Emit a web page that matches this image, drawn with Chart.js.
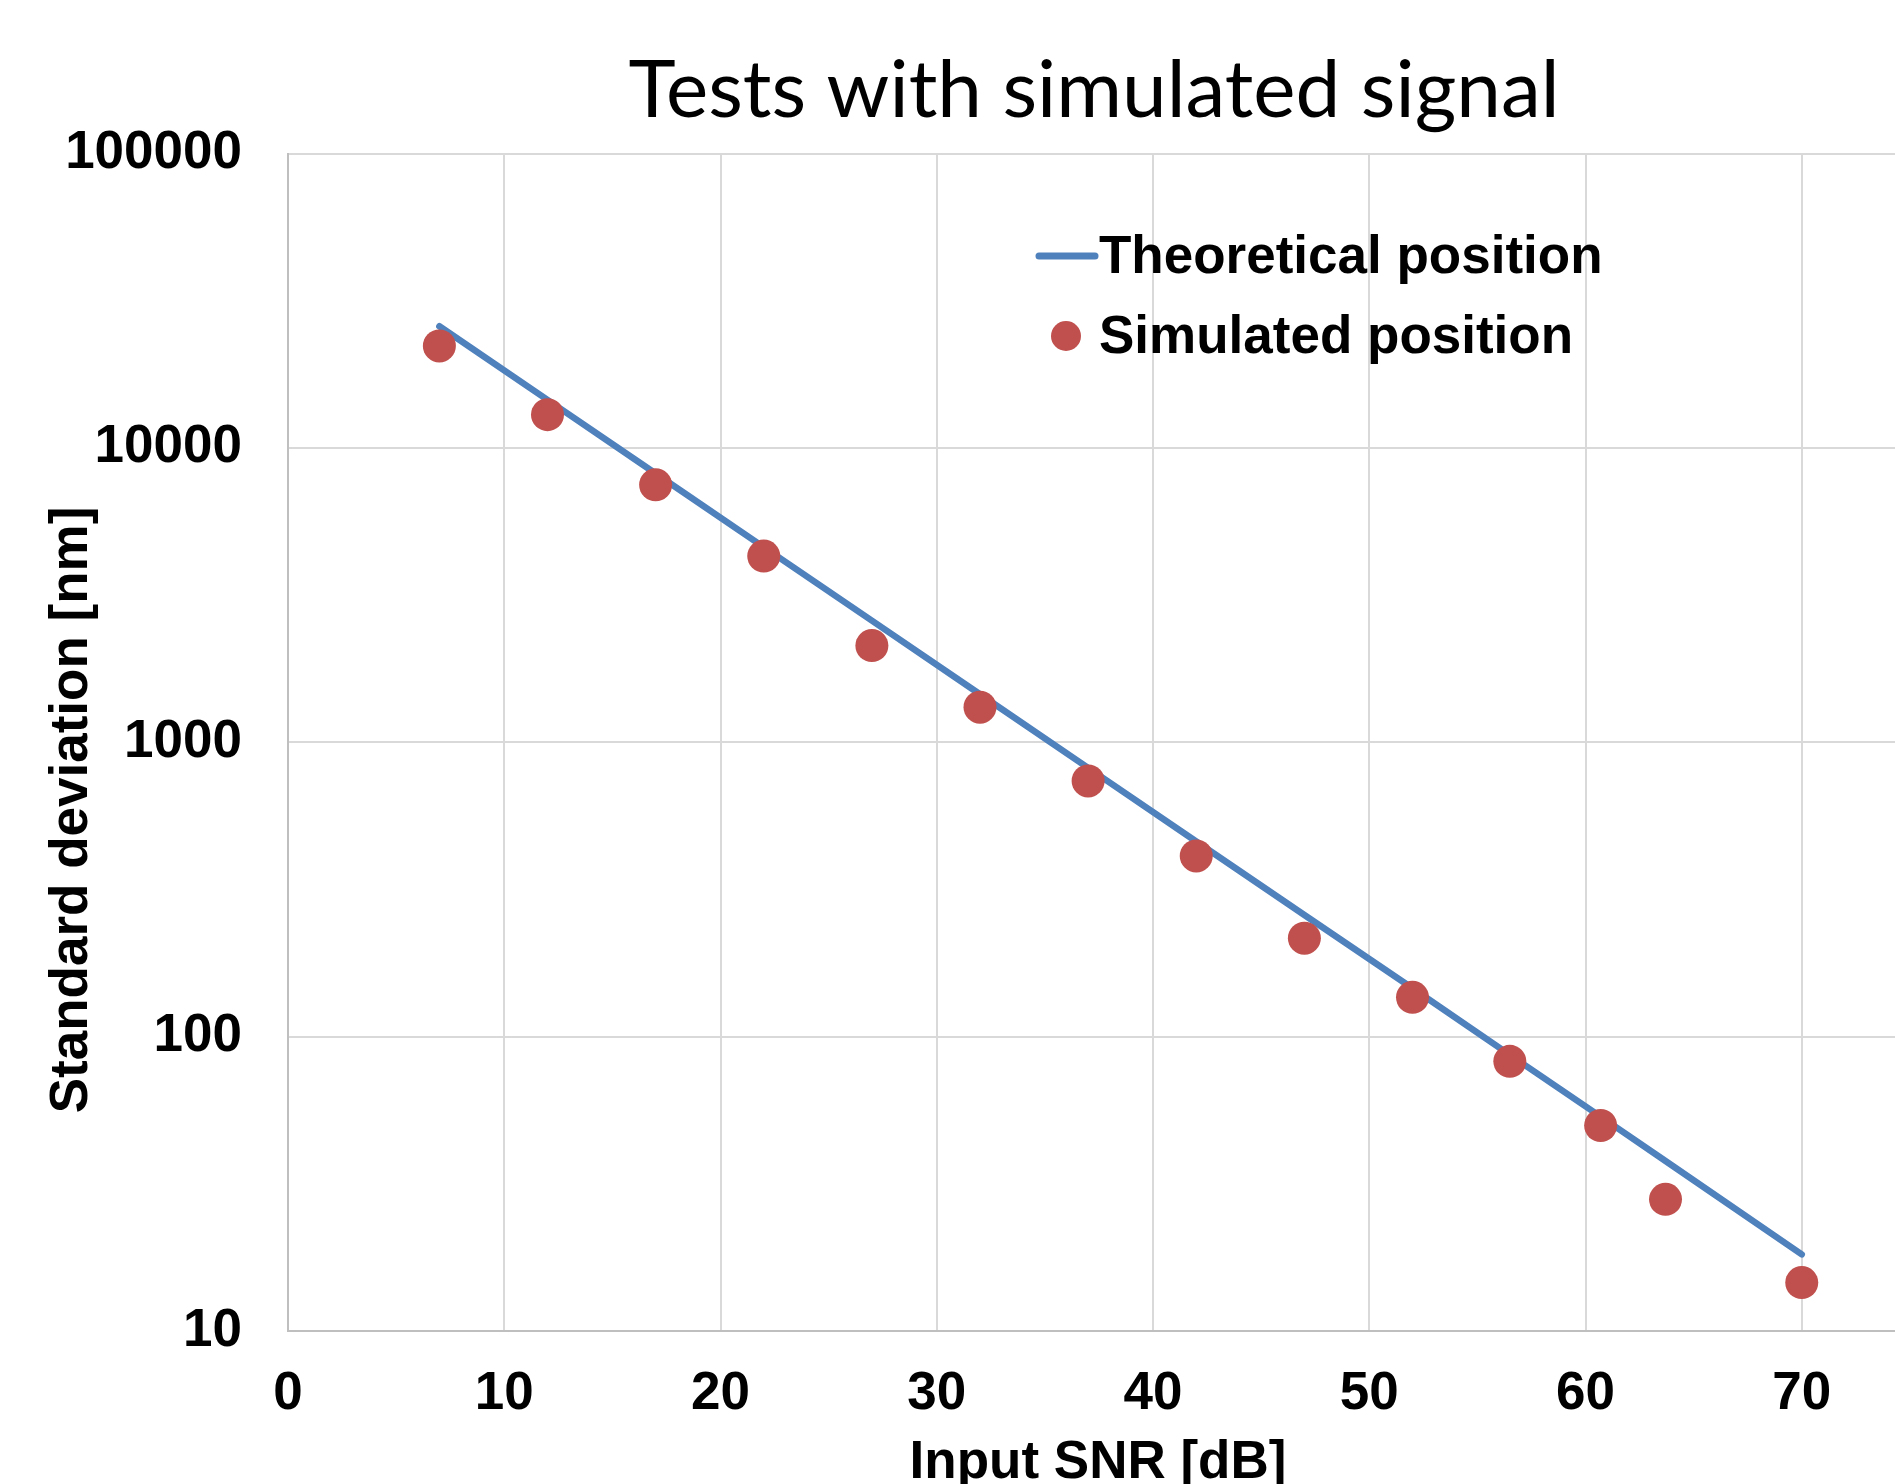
<!DOCTYPE html>
<html lang="en">
<head>
    <meta charset="UTF-8">
    <title>Tests with simulated signal</title>
    <style>
        html, body { margin: 0; padding: 0; background: #fff; overflow: hidden; }
        .frame { width: 1895px; height: 1484px; overflow: hidden; position: relative; }
        .frame canvas { position: absolute; left: 0; top: 0; }
    </style>
</head>
<body>
    <div class="frame">
        <canvas id="snrChart" width="2188" height="1500"></canvas>
    </div>

    <script src="https://cdn.jsdelivr.net/npm/chart.js"></script>
    <script>
        // Input SNR [dB] for both series
        const snrValues = [7, 12, 17, 22, 27, 32, 37, 42, 47, 52, 56.5, 60.7, 63.7, 70];
        // theoretical standard deviation [nm]
        const theoreticalStd = [25900, 14560, 8180, 4600, 2590, 1455, 818, 460, 259, 146, 86.7, 53.5, 37.8, 18.2];
        // simulated standard deviation [nm]
        const simulatedStd = [22200, 12970, 7490, 4290, 2130, 1316, 739, 411, 216, 136, 82.4, 49.9, 28.0, 14.6];

        const xTicks = [0, 10, 20, 30, 40, 50, 60, 70, 80];
        const yTicks = [10, 100, 1000, 10000, 100000];

        const seriesNames = ['Theoretical position', 'Simulated position'];
        const chartTitle = 'Tests with simulated signal';
        const xTitle = 'Input SNR [dB]';
        const yTitle = 'Standard deviation [nm]';

        const BLUE = '#4f81bd';
        const RED = '#c0504d';
        const GRID = '#d9d9d9';
        const AXIS = '#bfbfbf';
        const BOLD = { family: "'Liberation Sans', Arial, sans-serif", size: 53, weight: 'bold' };
        const BOLD_CSS = 'bold 53px "Liberation Sans", Arial, sans-serif';

        const toPoints = (xs, ys) => xs.map((x, i) => ({ x: x, y: ys[i] }));

        // titles + legend drawn by hand so they sit where the original has them
        const extras = {
            id: 'extras',
            afterDraw(chart) {
                const ctx = chart.ctx;
                ctx.save();
                ctx.fillStyle = '#000';

                // chart title
                ctx.font = '80px Lato, sans-serif';
                ctx.textAlign = 'center';
                ctx.textBaseline = 'alphabetic';
                ctx.fillText(chartTitle, 1094, 117);

                ctx.font = BOLD_CSS;
                ctx.textBaseline = 'middle';

                // x axis title (cut by the frame bottom like the original)
                ctx.fillText(xTitle, 1098, 1463);

                // y axis title
                ctx.save();
                ctx.translate(72, 810);
                ctx.rotate(-Math.PI / 2);
                ctx.fillText(yTitle, 0, 0);
                ctx.restore();

                // legend
                ctx.textAlign = 'left';
                const lx = 1039;
                ctx.strokeStyle = BLUE;
                ctx.lineWidth = 7;
                ctx.lineCap = 'round';
                ctx.beginPath();
                ctx.moveTo(lx, 256);
                ctx.lineTo(lx + 56, 256);
                ctx.stroke();
                ctx.fillText(seriesNames[0], lx + 60, 258);

                ctx.fillStyle = RED;
                ctx.beginPath();
                ctx.arc(lx + 27, 336, 15, 0, Math.PI * 2);
                ctx.fill();
                ctx.fillStyle = '#000';
                ctx.fillText(seriesNames[1], lx + 60, 338);
                ctx.restore();
            }
        };

        const ctx = document.getElementById('snrChart').getContext('2d');
        const snrChart = new Chart(ctx, {
            type: 'scatter',
            data: {
                datasets: [{
                    label: seriesNames[0],
                    data: toPoints(snrValues, theoreticalStd),
                    showLine: true,
                    borderColor: BLUE,
                    backgroundColor: BLUE,
                    borderWidth: 6.5,
                    borderCapStyle: 'round',
                    pointRadius: 0,
                    tension: 0,
                    order: 2
                }, {
                    label: seriesNames[1],
                    data: toPoints(snrValues, simulatedStd),
                    showLine: false,
                    backgroundColor: RED,
                    borderColor: RED,
                    borderWidth: 0,
                    pointRadius: 16.5,
                    order: 1
                }]
            },
            options: {
                responsive: false,
                animation: false,
                layout: { padding: { top: 153.5, left: 0, right: 170, bottom: 0 } },
                plugins: {
                    legend: { display: false },
                    tooltip: { enabled: false },
                    title: { display: false }
                },
                scales: {
                    x: {
                        type: 'linear',
                        min: xTicks[0],
                        max: xTicks[xTicks.length - 1],
                        afterBuildTicks: s => { s.ticks = xTicks.map(v => ({ value: v })); },
                        afterFit: s => { s.height = 169; },
                        grid: { color: GRID, lineWidth: 2, drawTicks: false },
                        border: { color: AXIS, width: 2 },
                        ticks: { color: '#000', font: BOLD, padding: 32, maxRotation: 0 },
                        title: { display: false }
                    },
                    y: {
                        type: 'logarithmic',
                        min: yTicks[0],
                        max: yTicks[yTicks.length - 1],
                        afterBuildTicks: s => { s.ticks = yTicks.map(v => ({ value: v })); },
                        afterFit: s => { s.width = 288; },
                        grid: { color: GRID, lineWidth: 2, drawTicks: false },
                        border: { color: AXIS, width: 2 },
                        ticks: {
                            color: '#000',
                            font: BOLD,
                            padding: 46,
                            callback: v => String(v)
                        },
                        title: { display: false }
                    }
                }
            },
            plugins: [extras]
        });
    </script>
</body>
</html>
